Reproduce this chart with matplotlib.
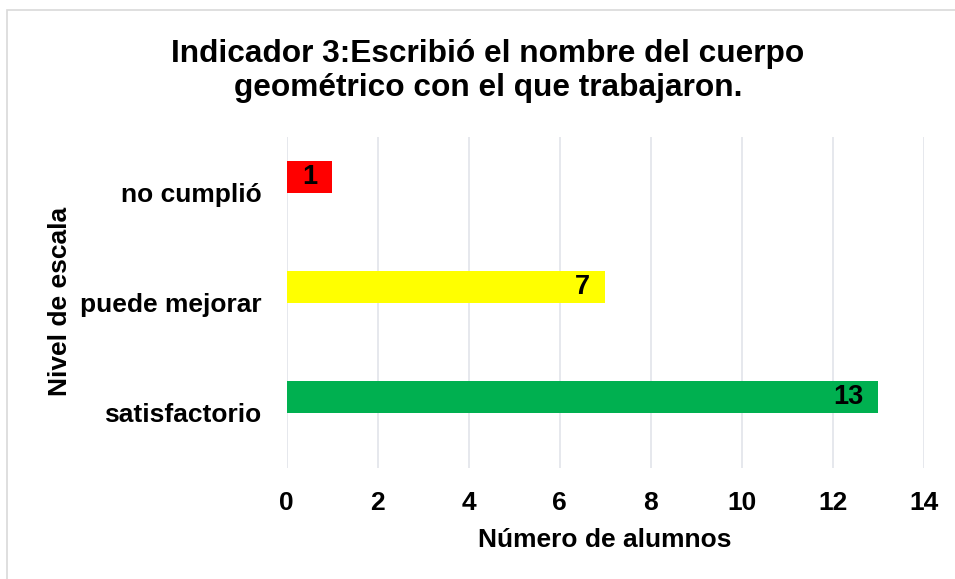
import matplotlib
matplotlib.use("Agg")
import matplotlib.pyplot as plt
from matplotlib.patches import Rectangle

categories = ["satisfactorio", "puede mejorar", "no cumplió"]
values = [13, 7, 1]
colors = ["#00B050", "#FFFF00", "#FF0000"]
xticks = [0, 2, 4, 6, 8, 10, 12, 14]

plt.rcParams['font.family'] = ['Liberation Sans', 'DejaVu Sans']
plt.rcParams['font.weight'] = 'bold'

W, H = 955, 579
fig = plt.figure(figsize=(W / 100, H / 100), dpi=100)
fig.patch.set_facecolor("white")
fig.add_artist(Rectangle((7 / W, -0.1), 1.2, 1 - 10 / H + 0.1, transform=fig.transFigure,
                         fill=False, edgecolor="#d9d9d9", linewidth=1.2))

ax = fig.add_axes([286.7 / W, 1 - 468 / H, (924 - 286.7) / W, (468 - 137) / H])
ypos = list(range(len(categories)))
offset = 0.14
bar_y = [y + offset for y in ypos]
ax.barh(bar_y, values, height=0.29, color=colors, zorder=3)
for y, v in zip(bar_y, values):
    ax.text(v - 0.33, y, str(v), ha="right", va="center", fontsize=19.5,
            fontweight="bold", color="black", zorder=4)

ax.set_xlim(0, 14)
ax.set_ylim(-0.5, 2.5)
ax.set_xticks(xticks)
ax.set_xticklabels([str(t) for t in xticks], fontsize=19, fontweight="bold")
ax.set_yticks(ypos)
ax.set_yticklabels(categories, fontsize=19, fontweight="bold")
ax.tick_params(axis="both", length=0)
ax.tick_params(axis="x", pad=16.5)
ax.tick_params(axis="y", pad=18)
ax.grid(axis="x", color="#e1e4ea", linewidth=1.2, zorder=0)
for s in ax.spines.values():
    s.set_visible(False)

fig.text(605 / W, 1 - 540 / H, "Número de alumnos", ha="center", va="center",
         fontsize=19, fontweight="bold")
fig.text(60 / W, 1 - 301 / H, "Nivel de escala", ha="center", va="center",
         rotation=90, fontsize=19, fontweight="bold")
fig.text(488 / W, 1 - 71 / H, "Indicador 3:Escribió el nombre del cuerpo\ngeométrico con el que trabajaron.",
         ha="center", va="center", fontsize=22.8, fontweight="bold", linespacing=1.17)

fig.savefig("out.png", dpi=100)
